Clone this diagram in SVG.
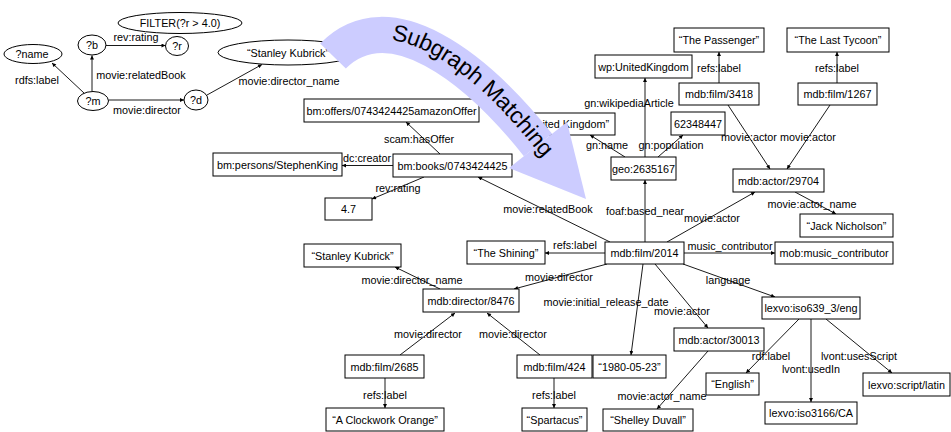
<svg xmlns="http://www.w3.org/2000/svg" width="951" height="432" viewBox="0 0 951 432">
  <defs>
    <marker id="ah" viewBox="0 0 10 10" refX="10" refY="5" markerUnits="userSpaceOnUse" markerWidth="5" markerHeight="4" orient="auto">
      <path d="M0,0 L10,5 L0,10 z" fill="#000"/>
    </marker>
    <path id="bandPath" d="M333,56 C389,-1 476,67 538,145 L586,199"/>
  </defs>
  <style>
    .n rect, .n ellipse { fill: #fff; stroke: #000; stroke-width: 1; }
    text { font-family: "Liberation Sans", Arial, sans-serif; font-size: 10.8px; fill: #000; text-anchor: middle; }
    #connectors line { stroke: #000; stroke-width: 0.9; marker-end: url(#ah); }
    .band { fill: none; stroke: #ccccff; stroke-width: 36; }
    .bandHead { fill: #ccccff; }
    .bandText { font-size: 23px; text-anchor: start; }
  </style>

  <!-- connectors and their labels -->
  <g id="connectors">
    <!-- query pattern -->
    <line x1="84" y1="93" x2="52" y2="63"/>
    <text x="37" y="84">rdfs:label</text>
    <line x1="92" y1="91" x2="92" y2="55.5"/>
    <text x="141" y="78.5">movie:relatedBook</text>
    <line x1="106" y1="45.5" x2="165.5" y2="45.5"/>
    <text x="136" y="40.5">rev:rating</text>
    <line x1="108.5" y1="100" x2="184" y2="100"/>
    <text x="147" y="113.5">movie:director</text>
    <line x1="207" y1="95" x2="262" y2="64.5"/>
    <text x="289" y="84.5">movie:director_name</text>

    <!-- data graph -->
    <line x1="440" y1="154" x2="406" y2="122"/>
    <text x="419" y="142.5">scam:hasOffer</text>
    <line x1="393" y1="165.5" x2="342" y2="165.5"/>
    <text x="367" y="161.5">dc:creator</text>
    <line x1="424" y1="177" x2="372" y2="199"/>
    <text x="398" y="191.5">rev:rating</text>
    <line x1="610" y1="242" x2="478" y2="177"/>
    <text x="548" y="212.5">movie:relatedBook</text>
    <line x1="645" y1="157" x2="645" y2="78"/>
    <text x="629" y="106.5">gn:wikipediaArticle</text>
    <line x1="625" y1="157" x2="590" y2="135"/>
    <text x="607" y="148.5">gn:name</text>
    <line x1="658" y1="157" x2="683" y2="135"/>
    <text x="671" y="148.5">gn:population</text>
    <line x1="645" y1="242" x2="645" y2="180"/>
    <text x="645" y="214.5">foaf:based_near</text>
    <line x1="719" y1="83" x2="719" y2="52"/>
    <text x="719" y="71.5">refs:label</text>
    <line x1="837" y1="83" x2="837" y2="52"/>
    <text x="837" y="71.5">refs:label</text>
    <line x1="728" y1="105" x2="770" y2="169"/>
    <text x="749" y="140.5">movie:actor</text>
    <line x1="830" y1="105" x2="787" y2="169"/>
    <text x="808" y="140.5">movie:actor</text>
    <line x1="795" y1="192" x2="836" y2="214"/>
    <text x="812" y="207.5">movie:actor_name</text>
    <line x1="667" y1="242" x2="755" y2="192"/>
    <text x="712" y="221.5">movie:actor</text>
    <line x1="684" y1="253" x2="775" y2="253"/>
    <text x="730" y="249.5">music_contributor</text>
    <line x1="683" y1="264" x2="775" y2="297"/>
    <text x="728" y="283.5">language</text>
    <line x1="655" y1="264" x2="708" y2="328"/>
    <text x="682" y="314.5">movie:actor</text>
    <line x1="643" y1="264" x2="631" y2="355"/>
    <text x="606" y="305.5">movie:initial_release_date</text>
    <line x1="708" y1="351" x2="657" y2="409"/>
    <text x="662" y="399.5">movie:actor_name</text>
    <line x1="799" y1="319" x2="746" y2="373"/>
    <text x="771" y="359.5">rdf:label</text>
    <line x1="811" y1="319" x2="811" y2="402"/>
    <text x="811" y="372.5">lvont:usedIn</text>
    <line x1="826" y1="319" x2="892" y2="373"/>
    <text x="859" y="359.5">lvont:usesScript</text>
    <line x1="605" y1="253" x2="545" y2="253"/>
    <text x="575" y="248.5">refs:label</text>
    <line x1="607" y1="264" x2="514" y2="289"/>
    <text x="559" y="280.5">movie:director</text>
    <line x1="440" y1="289" x2="395" y2="267"/>
    <text x="412" y="283.5">movie:director_name</text>
    <line x1="400" y1="355" x2="455" y2="313"/>
    <text x="428" y="337.5">movie:director</text>
    <line x1="540" y1="355" x2="487" y2="313"/>
    <text x="513" y="337.5">movie:director</text>
    <line x1="385" y1="378" x2="385" y2="408"/>
    <text x="385" y="398.5">refs:label</text>
    <line x1="554" y1="378" x2="554" y2="408"/>
    <text x="554" y="398.5">refs:label</text>
  </g>

  <!-- query pattern nodes -->
  <g id="q-filter" class="n"><ellipse cx="180" cy="23" rx="62" ry="10.5"/><text x="180" y="27">FILTER(?r &gt; 4.0)</text></g>
  <g id="q-name" class="n"><ellipse cx="33" cy="54" rx="29" ry="9.5"/><text x="32" y="58">?name</text></g>
  <g id="q-b" class="n"><ellipse cx="92" cy="45" rx="14" ry="10"/><text x="92" y="49">?b</text></g>
  <g id="q-r" class="n"><ellipse cx="177" cy="46" rx="11.5" ry="9.5"/><text x="177" y="50">?r</text></g>
  <g id="q-m" class="n"><ellipse cx="93" cy="101" rx="15.5" ry="9.5"/><text x="93" y="105">?m</text></g>
  <g id="q-d" class="n"><ellipse cx="196" cy="100" rx="12" ry="10"/><text x="196" y="104">?d</text></g>
  <g id="q-kubrick" class="n"><ellipse cx="288" cy="52.5" rx="70" ry="12.5"/><text x="288" y="56.5">“Stanley Kubrick”</text></g>

  <!-- data graph nodes -->
  <g id="n-offers" class="n"><rect x="304" y="99" width="175" height="23"/><text x="391.5" y="114.5">bm:offers/0743424425amazonOffer</text></g>
  <g id="n-persons" class="n"><rect x="213" y="153" width="129" height="23"/><text x="277.5" y="168.5">bm:persons/StephenKing</text></g>
  <g id="n-books" class="n"><rect x="393" y="154" width="119" height="23"/><text x="452.5" y="169.5">bm:books/0743424425</text></g>
  <g id="n-rating" class="n"><rect x="325" y="198" width="47" height="22"/><text x="348.5" y="213">4.7</text></g>
  <g id="n-wpuk" class="n"><rect x="595" y="55" width="97" height="23"/><text x="643.5" y="70.5">wp:UnitedKingdom</text></g>
  <g id="n-ukname" class="n"><rect x="519" y="113" width="96" height="22"/><text x="567" y="128">“United Kingdom”</text></g>
  <g id="n-geo" class="n"><rect x="611" y="157" width="65" height="23"/><text x="643.5" y="172.5">geo:2635167</text></g>
  <g id="n-pop" class="n"><rect x="671" y="112" width="54" height="23"/><text x="698" y="127.5">62348447</text></g>
  <g id="n-film3418" class="n"><rect x="679" y="83" width="80" height="22"/><text x="719" y="98">mdb:film/3418</text></g>
  <g id="n-passenger" class="n"><rect x="674" y="28" width="90" height="24"/><text x="719" y="44">“The Passenger”</text></g>
  <g id="n-tycoon" class="n"><rect x="787" y="28" width="102" height="24"/><text x="838" y="44">“The Last Tycoon”</text></g>
  <g id="n-film1267" class="n"><rect x="798" y="83" width="79" height="22"/><text x="837.5" y="98">mdb:film/1267</text></g>
  <g id="n-actor29704" class="n"><rect x="733" y="169" width="91" height="23"/><text x="778.5" y="184.5">mdb:actor/29704</text></g>
  <g id="n-jack" class="n"><rect x="800" y="214" width="93" height="23"/><text x="846.5" y="229.5">“Jack Nicholson”</text></g>
  <g id="n-film2014" class="n"><rect x="605" y="242" width="79" height="22"/><text x="644.5" y="257">mdb:film/2014</text></g>
  <g id="n-music" class="n"><rect x="775" y="242" width="118" height="22"/><text x="834" y="257">mob:music_contributor</text></g>
  <g id="n-lexvoeng" class="n"><rect x="762" y="297" width="98" height="22"/><text x="811" y="312">lexvo:iso639_3/eng</text></g>
  <g id="n-actor30013" class="n"><rect x="674" y="328" width="90" height="23"/><text x="719" y="343.5">mdb:actor/30013</text></g>
  <g id="n-date" class="n"><rect x="593" y="355" width="73" height="23"/><text x="629.5" y="370.5">“1980-05-23”</text></g>
  <g id="n-shelley" class="n"><rect x="603" y="409" width="90" height="22"/><text x="648" y="424">“Shelley Duvall”</text></g>
  <g id="n-english" class="n"><rect x="706" y="373" width="53" height="22"/><text x="732.5" y="388">“English”</text></g>
  <g id="n-ca" class="n"><rect x="765" y="402" width="92" height="22"/><text x="811" y="417">lexvo:iso3166/CA</text></g>
  <g id="n-latin" class="n"><rect x="863" y="373" width="87" height="23"/><text x="906.5" y="388.5">lexvo:script/latin</text></g>
  <g id="n-shining" class="n"><rect x="467" y="241" width="78" height="23"/><text x="506" y="256.5">“The Shining”</text></g>
  <g id="n-kubrick" class="n"><rect x="304" y="244" width="97" height="23"/><text x="352.5" y="259.5">“Stanley Kubrick”</text></g>
  <g id="n-director" class="n"><rect x="423" y="289" width="96" height="23"/><text x="471" y="304.5">mdb:director/8476</text></g>
  <g id="n-film2685" class="n"><rect x="345" y="355" width="79" height="23"/><text x="384.5" y="370.5">mdb:film/2685</text></g>
  <g id="n-film424" class="n"><rect x="517" y="355" width="75" height="23"/><text x="554.5" y="370.5">mdb:film/424</text></g>
  <g id="n-clockwork" class="n"><rect x="326" y="408" width="118" height="23"/><text x="385" y="423.5">“A Clockwork Orange”</text></g>
  <g id="n-spartacus" class="n"><rect x="522" y="408" width="65" height="23"/><text x="554.5" y="423.5">“Spartacus”</text></g>

  <!-- curved band arrow from the pattern into the data graph -->
  <g id="matching-arrow">
    <path class="band" d="M333,56 C389,-1 476,67 538,145"/>
    <polygon class="bandHead" points="509,168 567,122 586,199"/>
    <text class="bandText" dy="4.5"><textPath href="#bandPath" startOffset="65">Subgraph Matching</textPath></text>
  </g>
</svg>
